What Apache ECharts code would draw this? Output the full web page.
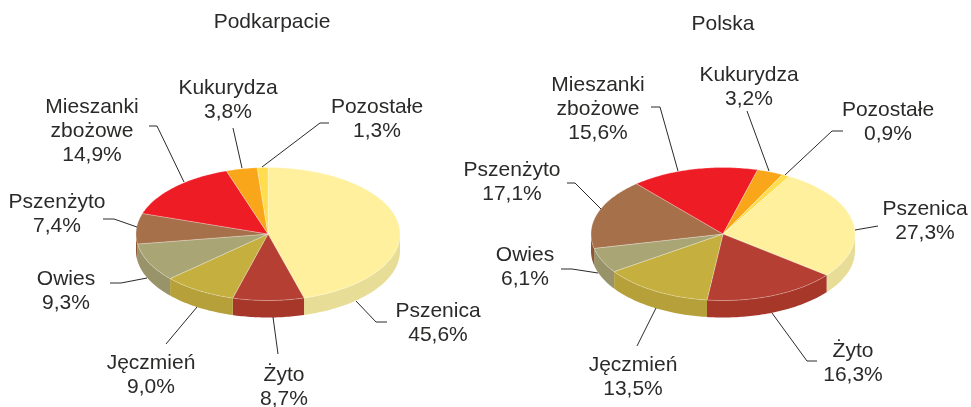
<!DOCTYPE html>
<html>
<head>
<meta charset="utf-8">
<style>
    html, body { margin: 0; padding: 0; background: #fff; }
    #chart { width: 971px; height: 407px; }
</style>
<script src="https://cdn.jsdelivr.net/npm/echarts@6/dist/echarts.min.js"></script>
</head>
<body>
<div id="chart"></div>
<script>
var categories = ['Pszenica', 'Żyto', 'Jęczmień', 'Owies', 'Pszenżyto', 'Mieszanki\nzbożowe', 'Kukurydza', 'Pozostałe'];
var podkarpacie = [45.6, 8.7, 9.0, 9.3, 7.4, 14.9, 3.8, 1.3];
var polska = [27.3, 16.3, 13.5, 6.1, 17.1, 15.6, 3.2, 0.9];

var topColors = ['#FFF09E', '#B43F32', '#C5AF3F', '#AAA574', '#A5704A', '#EE1C25', '#FAA61A', '#FFDD4F'];
var sideColors = ['#E8DD97', '#A63729', '#B5A03A', '#989369', '#8F5535', '#C81820', '#D98F16', '#DDBF44'];

var textColor = '#2B2A29';
var labelFont = '21px "Liberation Sans", Arial, sans-serif';
var RX = 132, RY = 66.5, DEPTH = 17;

// label centre and leader line for every slice, in chart order
var leftLayout = {
    cx: 268, cy: 234, start: 0,
    labels: [[438, 323], [284, 387], [151, 375], [66, 291], [57, 214], [92, 131], [228, 100], [377, 119]],
    leaders: [
        [[356, 301], [376, 322], [387, 322]],
        [[273, 317], [278, 354]],
        [[197, 307], [166, 344]],
        [[147, 278], [121, 283], [110, 283]],
        [[137, 227], [114, 219], [103, 219]],
        [[184, 182], [157, 126], [149, 126]],
        [[242, 168], [233, 128]],
        [[262, 167], [320, 123], [329, 123]]
    ]
};
var rightLayout = {
    cx: 723, cy: 234, start: 30,
    labels: [[925, 221], [853, 363], [633, 377], [525, 267], [512, 182], [598, 109], [749, 87], [888, 122]],
    leaders: [
        [[855, 230], [878, 226]],
        [[772, 313], [807, 361], [817, 361]],
        [[656, 308], [637, 346]],
        [[598, 273], [572, 269], [561, 269]],
        [[601, 209], [575, 183], [567, 183]],
        [[678, 171], [660, 107], [651, 107]],
        [[769, 171], [747, 111]],
        [[785, 175], [832, 131], [843, 131]]
    ]
};

function rimPoint(l, deg, dy) {
    var a = deg * Math.PI / 180;
    return [l.cx + RX * Math.sin(a), l.cy - RY * Math.cos(a) + (dy || 0)];
}

function arcPoints(l, from, to, dy) {
    var pts = [];
    var n = Math.max(2, Math.ceil(Math.abs(to - from)));
    for (var i = 0; i <= n; i++) {
        pts.push(rimPoint(l, from + (to - from) * i / n, dy));
    }
    return pts;
}

function pieSeries(values, l) {
    var total = values.reduce(function (a, b) { return a + b; }, 0);
    return {
        type: 'custom',
        coordinateSystem: 'none',
        silent: true,
        data: values,
        renderItem: function (params, api) {
            var i = params.dataIndex;
            var before = values.slice(0, i).reduce(function (a, b) { return a + b; }, 0);
            var from = l.start + before / total * 360;
            var to = from + values[i] / total * 360;
            var children = [];

            // front wall, only the part of the rim facing the viewer
            var sideFrom = Math.max(from, 90), sideTo = Math.min(to, 270);
            if (sideTo > sideFrom) {
                children.push({
                    type: 'polygon',
                    shape: { points: arcPoints(l, sideFrom, sideTo, 0).concat(arcPoints(l, sideTo, sideFrom, DEPTH)) },
                    style: { fill: sideColors[i] }
                });
            }
            children.push({
                type: 'polygon',
                shape: { points: [[l.cx, l.cy]].concat(arcPoints(l, from, to, 0)) },
                style: { fill: topColors[i], stroke: 'rgba(255,255,255,0.45)', lineWidth: 0.6 }
            });
            children.push({
                type: 'polyline',
                shape: { points: l.leaders[i] },
                style: { fill: null, stroke: textColor, lineWidth: 1 }
            });
            children.push({
                type: 'text',
                style: {
                    text: categories[i] + '\n' + values[i].toFixed(1).replace('.', ',') + '%',
                    x: l.labels[i][0],
                    y: l.labels[i][1],
                    align: 'center',
                    verticalAlign: 'middle',
                    font: labelFont,
                    lineHeight: 24,
                    fill: textColor
                }
            });
            return { type: 'group', children: children };
        }
    };
}

var myChart = echarts.init(document.getElementById('chart'));
myChart.setOption({
    animation: false,
    backgroundColor: '#fff',
    title: [
        { text: 'Podkarpacie', left: 267, top: 7, textAlign: 'center', textStyle: { color: textColor, fontWeight: 'normal', fontSize: 21, fontFamily: 'Liberation Sans' } },
        { text: 'Polska', left: 718, top: 9, textAlign: 'center', textStyle: { color: textColor, fontWeight: 'normal', fontSize: 21, fontFamily: 'Liberation Sans' } }
    ],
    series: [pieSeries(podkarpacie, leftLayout), pieSeries(polska, rightLayout)]
});
</script>
</body>
</html>
